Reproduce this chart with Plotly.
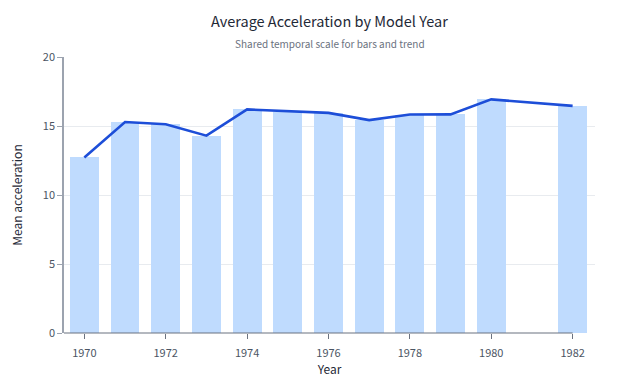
import plotly.graph_objects as go

years = [1970, 1971, 1972, 1973, 1974, 1975, 1976, 1977, 1978, 1979, 1980, 1982]
mean_accel = [12.72, 15.29, 15.13, 14.30, 16.20, 16.05, 15.95, 15.43, 15.83, 15.84, 16.93, 16.46]
x_ticks = [1970, 1972, 1974, 1976, 1978, 1980, 1982]
y_ticks = [0, 5, 10, 15, 20]

FONT = "Noto Sans CJK KR, Noto Sans, sans-serif"

fig = go.Figure()
fig.add_trace(go.Bar(x=years, y=mean_accel, width=0.71, marker=dict(color="#bfdbfe", line=dict(width=0)),
                     name="bars", showlegend=False))
fig.add_trace(go.Scatter(x=years, y=mean_accel, mode="lines", line=dict(color="#1d4ed8", width=2.6),
                         name="trend", showlegend=False))

fig.update_layout(
    width=640, height=391,
    margin=dict(l=64, r=45, t=57, b=58),
    paper_bgcolor="white", plot_bgcolor="white",
    font=dict(family=FONT, color="#4b5563", size=11),
    bargap=0,
)
fig.add_annotation(text="Average Acceleration by Model Year", xref="paper", yref="paper",
                   x=0.5, y=1, yshift=37, xanchor="center", yanchor="middle", showarrow=False,
                   font=dict(family=FONT, size=14.5, color="#1f2937"))
fig.add_annotation(text="Shared temporal scale for bars and trend", xref="paper", yref="paper",
                   x=0.5, y=1, yshift=14, xanchor="center", yanchor="middle", showarrow=False,
                   font=dict(family=FONT, size=10, color="#6b7280"))
fig.update_xaxes(
    range=[1969.5, 1982.55], tickvals=x_ticks, ticktext=[str(v) for v in x_ticks],
    showgrid=False, zeroline=False, showline=False,
    ticks="outside", ticklen=5, tickcolor="#6b7280", tickfont=dict(size=11, color="#4b5563"),
    ticklabelstandoff=5,
    title=dict(text="Year", font=dict(size=12, color="#1f2937"), standoff=4),
)
fig.update_yaxes(
    range=[0, 20], tickvals=y_ticks, showgrid=True, gridcolor="#e8ebef", gridwidth=1,
    zeroline=False, showline=True, linecolor="#9ca3af", linewidth=1.5,
    ticks="outside", ticklen=5, tickcolor="#9ca3af", tickfont=dict(size=11, color="#4b5563"),
    title=dict(text="Mean acceleration", font=dict(size=12, color="#1f2937"), standoff=18),
)
fig.add_shape(type="line", xref="x", yref="paper", x0=1969.5, x1=max(years), y0=0, y1=0,
              line=dict(color="#6b7280", width=1.2))

fig.write_html("out.html")
